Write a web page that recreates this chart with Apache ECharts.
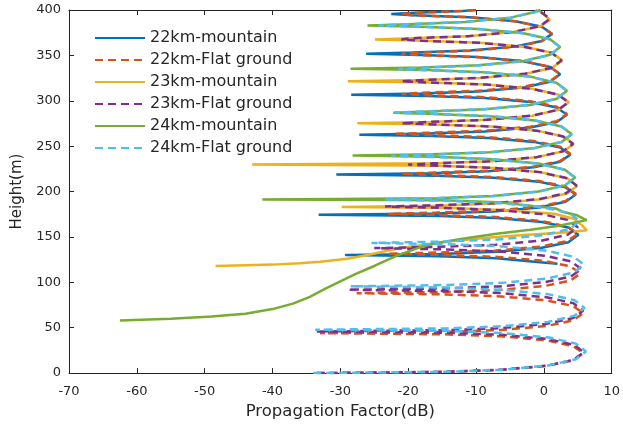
<!DOCTYPE html>
<html>
<head>
<meta charset="utf-8">
<script src="https://cdn.jsdelivr.net/npm/echarts@6/dist/echarts.min.js"></script>
<style>
  html, body { margin: 0; padding: 0; background: #fff; }
  #chart { width: 623px; height: 425px; }
</style>
</head>
<body>
<div id="chart"></div>
<script>
// legend names, in drawing order
const seriesNames = [
  "22km-mountain", "22km-Flat ground",
  "23km-mountain", "23km-Flat ground",
  "24km-mountain", "24km-Flat ground",
];

// [propagation factor dB, height m]
const mount22 = [
  [2, 120.5], [-1, 122.5], [-7, 126.5], [-15.5, 128.7], [-29.3, 130],
  [-15.4, 131.3], [-7, 133.6], [-0.3, 138], [3.6, 144.2], [5.1, 152.3], [3.6, 160.3], [-0.3, 166.5], [-7, 170.9], [-15.4, 173.2], [-33.2, 174.5],
  [-15.8, 175.8], [-7.4, 178], [-0.7, 182.5], [3.2, 188.7], [4.7, 196.7], [3.2, 204.6], [-0.7, 210.8], [-7.4, 215.3], [-15.8, 217.5], [-30.6, 218.8],
  [-16.6, 220.1], [-8.2, 222.3], [-1.5, 226.7], [2.4, 232.8], [3.9, 240.7], [2.4, 248.6], [-1.5, 254.7], [-8.2, 259.1], [-16.6, 261.3], [-27.2, 262.6],
  [-17.1, 263.9], [-8.7, 266.1], [-2, 270.5], [1.9, 276.6], [3.4, 284.6], [1.9, 292.5], [-2, 298.6], [-8.7, 303], [-17.1, 305.2], [-28.4, 306.5],
  [-18.1, 307.9], [-9.7, 310.1], [-3, 314.7], [0.9, 321], [2.4, 329.2], [0.9, 337.3], [-3, 343.6], [-9.7, 348.2], [-18.1, 350.4], [-26.2, 351.8],
  [-19.3, 353.1], [-10.9, 355.3], [-4.2, 359.7], [-0.3, 365.8], [1.2, 373.7], [-0.3, 381.6], [-4.2, 387.7], [-10.9, 392.1], [-19.3, 394.3], [-22.5, 395.6],
  [-19, 396.9], [-12, 399], [-10, 400],
];

const flat22 = [
  [-33.5, 0], [-14.7, 1.3], [-6.3, 3.5], [0.4, 7.9], [4.3, 14.1], [5.8, 22], [4.3, 29.9], [0.4, 36.1], [-6.3, 40.5], [-14.7, 42.7], [-33, 44],
  [-14.7, 45.3], [-6.3, 47.5], [0.4, 51.9], [4.3, 58.1], [5.8, 66], [4.3, 73.9], [0.4, 80.1], [-6.3, 84.5], [-14.7, 86.7], [-27.6, 88],
  [-15.1, 89.3], [-6.7, 91.5], [0, 95.8], [3.9, 101.9], [5.4, 109.8], [3.9, 117.6], [0, 123.7], [-6.7, 128], [-15.1, 130.2], [-23, 131.5],
  [-15.5, 132.8], [-7.1, 135], [-0.4, 139.4], [3.5, 145.6], [5, 153.5], [3.5, 161.4], [-0.4, 167.6], [-7.1, 172], [-15.5, 174.2], [-23, 175.5],
  [-15.8, 176.8], [-7.4, 179], [-0.7, 183.4], [3.2, 189.6], [4.7, 197.5], [3.2, 205.4], [-0.7, 211.6], [-7.4, 216], [-15.8, 218.2], [-21, 219.5],
  [-16.6, 220.8], [-8.2, 223], [-1.5, 227.4], [2.4, 233.6], [3.9, 241.5], [2.4, 249.4], [-1.5, 255.6], [-8.2, 260], [-16.6, 262.2], [-22, 263.5],
  [-17.1, 264.8], [-8.7, 267], [-2, 271.4], [1.9, 277.6], [3.4, 285.5], [1.9, 293.4], [-2, 299.6], [-8.7, 304], [-17.1, 306.2], [-21, 307.5],
  [-18.1, 308.8], [-9.7, 311], [-3, 315.4], [0.9, 321.6], [2.4, 329.5], [0.9, 337.4], [-3, 343.6], [-9.7, 348], [-18.1, 350.2], [-21, 351.5],
  [-19.3, 352.8], [-10.9, 355], [-4.2, 359.4], [-0.3, 365.6], [1.2, 373.5], [-0.3, 381.4], [-4.2, 387.6], [-10.9, 392], [-19.3, 394.2], [-21, 395.5],
  [-19, 396.8], [-12, 399], [-10, 400],
];

const mount23 = [
  [-48.4, 118], [-44, 118.8], [-40, 119.5], [-36, 121], [-33, 122.6], [-29, 126], [-26, 130], [-21, 138], [-17, 142], [-14, 145],
  [-10, 148], [-7, 150], [-3, 152], [0, 153.5], [3, 155], [6.3, 157.3],
  [5.6, 163], [4.4, 170], [1.5, 175.5], [-5.5, 179.5], [-13.5, 181.8], [-29.8, 183],
  [-15.6, 184.4], [-7.2, 186.7], [-0.5, 191.4], [3.4, 197.9], [4.9, 206.4], [3.4, 214.8], [-0.5, 221.3], [-7.2, 226], [-15.6, 228.3], [-43, 229.7],
  [-16.1, 231.1], [-7.7, 233.3], [-1, 237.9], [2.9, 244.3], [4.4, 252.5], [2.9, 260.7], [-1, 267.1], [-7.7, 271.7], [-16.1, 273.9], [-27.5, 275.3],
  [-16.8, 276.7], [-8.4, 279], [-1.7, 283.6], [2.2, 290.1], [3.7, 298.4], [2.2, 306.7], [-1.7, 313.2], [-8.4, 317.8], [-16.8, 320.1], [-28.9, 321.5],
  [-17.8, 322.9], [-9.4, 325.2], [-2.7, 329.8], [1.2, 336.2], [2.7, 344.5], [1.2, 352.8], [-2.7, 359.2], [-9.4, 363.8], [-17.8, 366.1], [-24.9, 367.5],
  [-19.6, 368.9], [-11.2, 371.2], [-4.5, 375.8], [-0.6, 381.8], [0.9, 389], [-0.4, 397.5], [-1, 400],
];

const flat23 = [
  [-33.5, 0], [-14.6, 1.4], [-6.2, 3.7], [0.5, 8.3], [4.4, 14.7], [5.9, 23], [4.4, 31.2], [0.5, 37.6], [-6.2, 42.2], [-14.6, 44.5], [-33.5, 45.9],
  [-14.7, 47.3], [-6.3, 49.6], [0.4, 54.2], [4.3, 60.6], [5.8, 68.9], [4.3, 77.1], [0.4, 83.5], [-6.3, 88.1], [-14.7, 90.4], [-28.9, 91.8],
  [-15, 93.2], [-6.6, 95.5], [0.1, 100.1], [4, 106.5], [5.5, 114.8], [4, 123], [0.1, 129.4], [-6.6, 134], [-15, 136.3], [-25, 137.7],
  [-15.5, 139.1], [-7.1, 141.4], [-0.4, 145.9], [3.5, 152.4], [5, 160.6], [3.5, 168.8], [-0.4, 175.3], [-7.1, 179.8], [-15.5, 182.1], [-23.4, 183.5],
  [-15.7, 184.9], [-7.3, 187.2], [-0.6, 191.8], [3.3, 198.3], [4.8, 206.6], [3.3, 214.9], [-0.6, 221.4], [-7.3, 226], [-15.7, 228.3], [-20, 229.7],
  [-16.2, 231.1], [-7.8, 233.3], [-1.1, 237.9], [2.8, 244.3], [4.3, 252.5], [2.8, 260.7], [-1.1, 267.1], [-7.8, 271.7], [-16.2, 273.9], [-21, 275.3],
  [-16.9, 276.7], [-8.5, 279], [-1.8, 283.6], [2.1, 290.1], [3.6, 298.4], [2.1, 306.7], [-1.8, 313.2], [-8.5, 317.8], [-16.9, 320.1], [-21, 321.5],
  [-17.9, 322.9], [-9.5, 325.2], [-2.8, 329.8], [1.1, 336.2], [2.6, 344.5], [1.1, 352.8], [-2.8, 359.2], [-9.5, 363.8], [-17.9, 366.1], [-21, 367.5],
  [-19.6, 368.9], [-11.2, 371.2], [-4.5, 375.8], [-0.6, 382.2], [0.9, 390.5], [-0.6, 398.7], [-1.2, 400],
];

const mount24 = [
  [-62.5, 58], [-55, 59.8], [-49, 62.3], [-44, 65.5], [-40, 70.5], [-37, 76.5], [-34.5, 84], [-32.2, 93], [-30, 101], [-27.8, 109],
  [-25, 118], [-21.5, 130], [-18.5, 138], [-16, 143], [-12, 148], [-7, 153.5], [-2, 158], [2, 162], [6.3, 168.5],
  [4.9, 173.8], [2.9, 177.4], [1.9, 181], [-2, 184.5], [-6.8, 188.2], [-15, 190.3], [-41.5, 191.3],
  [-15.9, 192.7], [-7.5, 195.2], [-0.8, 200], [3.1, 206.8], [4.6, 215.5], [3.1, 224.1], [-0.8, 230.9], [-7.5, 235.7], [-15.9, 238.2], [-28.2, 239.6],
  [-16.4, 241], [-8, 243.4], [-1.3, 248.1], [2.6, 254.7], [4.1, 263.2], [2.6, 271.6], [-1.3, 278.2], [-8, 282.9], [-16.4, 285.3], [-22.2, 286.7],
  [-17.1, 288.2], [-8.7, 290.6], [-2, 295.4], [1.9, 302.3], [3.4, 311], [1.9, 319.7], [-2, 326.6], [-8.7, 331.4], [-17.1, 333.8], [-28.5, 335.3],
  [-18.1, 336.7], [-9.7, 339.1], [-3, 343.9], [0.9, 350.6], [2.4, 359.2], [0.9, 367.7], [-3, 374.4], [-9.7, 379.2], [-18.1, 381.6], [-26, 383],
  [-20, 384.4], [-11.6, 386.8], [-4.9, 391.6], [-1, 398.4], [-0.5, 400],
];

const flat24 = [
  [-34, 0], [-14.3, 1.4], [-5.9, 3.8], [0.8, 8.6], [4.7, 15.3], [6.2, 23.9], [4.7, 32.5], [0.8, 39.2], [-5.9, 44], [-14.3, 46.4], [-33.7, 47.8],
  [-14.5, 49.2], [-6.1, 51.6], [0.6, 56.4], [4.5, 63.1], [6, 71.7], [4.5, 80.3], [0.6, 87], [-6.1, 91.8], [-14.5, 94.2], [-28.5, 95.6],
  [-14.6, 97], [-6.2, 99.4], [0.5, 104.2], [4.4, 110.9], [5.9, 119.5], [4.4, 128.1], [0.5, 134.8], [-6.2, 139.6], [-14.6, 142], [-25.4, 143.4],
  [-15.2, 144.8], [-6.8, 147.2], [-0.1, 152], [3.8, 158.7], [5.3, 167.4], [3.8, 176], [-0.1, 182.7], [-6.8, 187.5], [-15.2, 189.9], [-23.4, 191.3],
  [-15.9, 192.7], [-7.5, 195.1], [-0.8, 199.9], [3.1, 206.7], [4.6, 215.3], [3.1, 223.9], [-0.8, 230.7], [-7.5, 235.5], [-15.9, 237.9], [-22.5, 239.3],
  [-16.4, 240.7], [-8, 243.1], [-1.3, 247.9], [2.6, 254.6], [4.1, 263.2], [2.6, 271.7], [-1.3, 278.4], [-8, 283.2], [-16.4, 285.6], [-22, 287],
  [-17.1, 288.4], [-8.7, 290.8], [-2, 295.6], [1.9, 302.4], [3.4, 311], [1.9, 319.6], [-2, 326.4], [-8.7, 331.2], [-17.1, 333.6], [-21.5, 335],
  [-18.1, 336.4], [-9.7, 338.8], [-3, 343.6], [0.9, 350.4], [2.4, 359], [0.9, 367.6], [-3, 374.4], [-9.7, 379.2], [-18.1, 381.6], [-24.4, 383],
  [-20, 384.4], [-11.6, 386.8], [-4.9, 391.6], [-1, 398.4], [-0.5, 400],
];

const seriesData = [mount22, flat22, mount23, flat23, mount24, flat24];
const seriesColors = ["#0072BD", "#D95319", "#EDB120", "#7E2F8E", "#77AC30", "#4DBEEE"];
const dashed = [false, true, false, true, false, true];

const FONT = "'DejaVu Sans', 'Liberation Sans', sans-serif";
const INK = "#262626";

function buildSeries() {
  return seriesData.map((data, i) => ({
    name: seriesNames[i],
    type: "line",
    data,
    symbol: "none",
    clip: true,
    animation: false,
    lineStyle: {
      color: seriesColors[i],
      width: 2.5,
      type: dashed[i] ? [8, 5] : "solid",
    },
    itemStyle: { color: seriesColors[i] },
  }));
}

function boxAxis(base) {
  return Object.assign(
    {
      type: "value",
      axisLine: { show: true, onZero: false, lineStyle: { color: INK, width: 1 } },
      axisTick: { show: true, inside: true, length: 5, lineStyle: { color: INK } },
      splitLine: { show: false },
    },
    base
  );
}

const chart = echarts.init(document.getElementById("chart"), null, { renderer: "canvas" });

chart.setOption({
  animation: false,
  backgroundColor: "#fff",
  grid: { left: 69, right: 8, top: 10, bottom: 51 },
  legend: {
    orient: "vertical",
    left: 89,
    top: 25,
    itemWidth: 50,
    itemHeight: 14,
    itemGap: 6,
    itemStyle: { opacity: 0 },
    textStyle: { fontFamily: FONT, fontSize: 16, color: INK },
    data: seriesNames,
  },
  xAxis: [
    boxAxis({
      min: -70,
      max: 10,
      interval: 10,
      name: "Propagation Factor(dB)",
      nameLocation: "middle",
      nameGap: 28,
      nameTextStyle: { fontFamily: FONT, fontSize: 16.5, color: INK },
      axisLabel: { fontFamily: FONT, fontSize: 13, color: INK, margin: 12 },
    }),
    boxAxis({
      position: "top",
      min: -70,
      max: 10,
      interval: 10,
      axisLabel: { show: false },
    }),
  ],
  yAxis: [
    boxAxis({
      min: 0,
      max: 400,
      interval: 50,
      name: "Height(m)",
      nameLocation: "middle",
      nameGap: 44,
      nameTextStyle: { fontFamily: FONT, fontSize: 15, color: INK },
      axisLabel: { fontFamily: FONT, fontSize: 13, color: INK, margin: 8 },
    }),
    boxAxis({
      position: "right",
      min: 0,
      max: 400,
      interval: 50,
      axisLabel: { show: false },
    }),
  ],
  series: buildSeries(),
});
</script>
</body>
</html>
